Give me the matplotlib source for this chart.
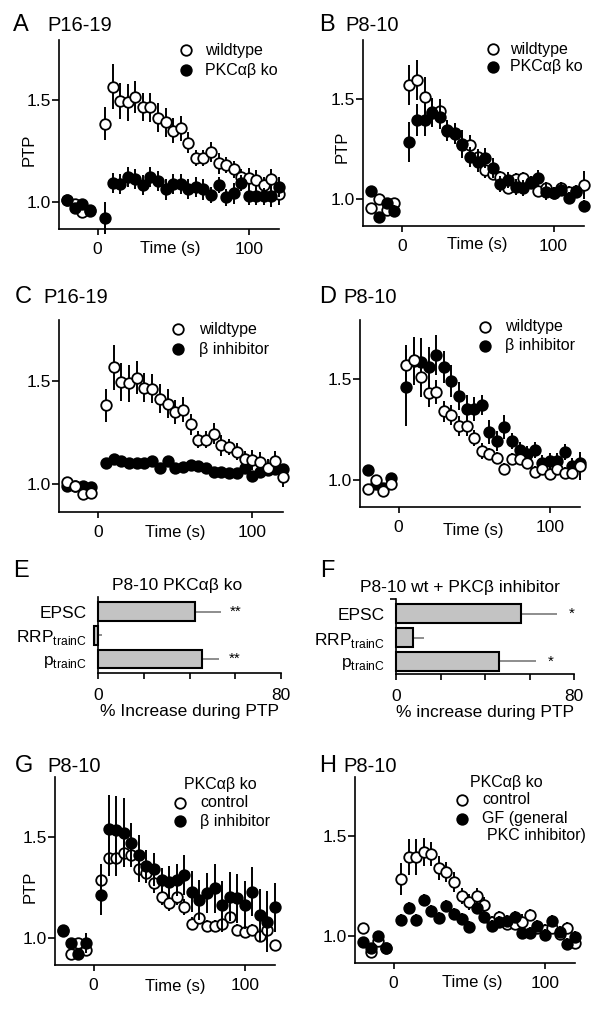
import numpy as np
import matplotlib.pyplot as plt

plt.rcParams['font.family'] = ['Liberation Sans', 'DejaVu Sans']
plt.rcParams['mathtext.fontset'] = 'custom'
plt.rcParams['mathtext.rm'] = 'Liberation Sans'
plt.rcParams['axes.linewidth'] = 1.2

# time points (s): 4 before the train, 24 after
time = [-20, -15, -10, -5,
        5, 10, 15, 20, 25, 30, 35, 40, 45, 50, 55, 60,
        65, 70, 75, 80, 85, 90, 95, 100, 105, 110, 115, 120]

# P16-19 (A, C)
p16_wt = [1.01, 0.99, 0.95, 0.955,
          1.383, 1.565, 1.495, 1.488, 1.515, 1.466, 1.463, 1.413, 1.39, 1.349, 1.36, 1.29,
          1.216, 1.216, 1.245, 1.188, 1.18, 1.158, 1.12, 1.117, 1.106, 1.08, 1.11, 1.035]
p16_wt_err = [0.02, 0.02, 0.02, 0.02,
              0.08, 0.11, 0.09, 0.09, 0.08, 0.07, 0.07, 0.07, 0.07, 0.06, 0.06, 0.05,
              0.04, 0.04, 0.05, 0.05, 0.04, 0.04, 0.04, 0.05, 0.05, 0.04, 0.05, 0.05]
p16_ko = [1.01, 0.97, 0.99, 0.96,
          0.918, 1.09, 1.087, 1.12, 1.11, 1.08, 1.12, 1.10, 1.06, 1.087, 1.085, 1.062,
          1.07, 1.06, 1.033, 1.08, 1.02, 1.04, 1.09, 1.025, 1.025, 1.025, 1.025, 1.07]
p16_ko_err = [0.02, 0.02, 0.02, 0.02,
              0.08, 0.05, 0.05, 0.05, 0.05, 0.05, 0.05, 0.05, 0.05, 0.05, 0.05, 0.05,
              0.05, 0.05, 0.04, 0.04, 0.04, 0.05, 0.04, 0.04, 0.04, 0.04, 0.05, 0.05]
p16_inh = [0.99, 0.99, 0.99, 0.985,
           1.104, 1.12, 1.112, 1.104, 1.10, 1.10, 1.112, 1.08, 1.112, 1.08, 1.085, 1.093,
           1.088, 1.077, 1.06, 1.06, 1.055, 1.052, 1.08, 1.04, 1.06, 1.068, 1.072, 1.072]
p16_inh_err = [0.015] * 28

# P8-10 (B, D)
p8_wt = [0.955, 1.0, 0.945, 0.98,
         1.571, 1.595, 1.51, 1.434, 1.439, 1.34, 1.324, 1.27, 1.27, 1.209, 1.143, 1.127,
         1.11, 1.053, 1.102, 1.105, 1.086, 1.04, 1.053, 1.028, 1.056, 1.033, 1.033, 1.069]
p8_wt_err = [0.02, 0.02, 0.02, 0.02,
             0.10, 0.10, 0.10, 0.07, 0.06, 0.05, 0.05, 0.05, 0.05, 0.04, 0.04, 0.03,
             0.03, 0.03, 0.03, 0.03, 0.03, 0.03, 0.03, 0.03, 0.03, 0.03, 0.03, 0.07]
p8_ko = [1.04, 0.91, 0.98, 0.94,
         1.284, 1.396, 1.396, 1.43, 1.41, 1.345, 1.33, 1.274, 1.212, 1.184, 1.207, 1.157,
         1.074, 1.095, 1.062, 1.054, 1.079, 1.104, 1.037, 1.03, 1.045, 1.003, 1.04, 0.967]
p8_ko_err = [0.02, 0.02, 0.02, 0.03,
             0.10, 0.08, 0.08, 0.07, 0.06, 0.05, 0.05, 0.07, 0.05, 0.05, 0.05, 0.05,
             0.04, 0.04, 0.04, 0.04, 0.03, 0.04, 0.04, 0.03, 0.03, 0.03, 0.03, 0.03]
p8_inh = [1.05, 0.98, 0.96, 1.007,
          1.46, 1.59, 1.587, 1.56, 1.62, 1.56, 1.49, 1.415, 1.354, 1.354, 1.374, 1.237,
          1.192, 1.263, 1.192, 1.148, 1.127, 1.148, 1.086, 1.094, 1.094, 1.138, 1.069, 1.082]
p8_inh_err = [0.02, 0.02, 0.02, 0.02,
              0.19, 0.12, 0.12, 0.10, 0.10, 0.08, 0.08, 0.07, 0.07, 0.06, 0.05, 0.06,
              0.05, 0.06, 0.04, 0.04, 0.04, 0.04, 0.04, 0.04, 0.04, 0.04, 0.04, 0.04]

# PKCab ko, P8-10 (G, H)
ko_ctrl = [1.04, 0.92, 0.975, 0.94,
           1.285, 1.393, 1.393, 1.42, 1.41, 1.338, 1.322, 1.272, 1.20, 1.17, 1.20, 1.153,
           1.07, 1.096, 1.058, 1.058, 1.068, 1.104, 1.038, 1.03, 1.038, 1.008, 1.038, 0.964]
ko_ctrl_err = [0.02, 0.02, 0.02, 0.02,
               0.08, 0.09, 0.09, 0.07, 0.06, 0.06, 0.05, 0.05, 0.04, 0.04, 0.04, 0.04,
               0.03, 0.03, 0.03, 0.03, 0.04, 0.03, 0.03, 0.03, 0.03, 0.03, 0.03, 0.02]
ko_binh = [1.035, 0.975, 0.918, 0.975,
           1.211, 1.536, 1.533, 1.52, 1.467, 1.409, 1.355, 1.338, 1.285, 1.277, 1.285, 1.31,
           1.228, 1.186, 1.22, 1.244, 1.162, 1.203, 1.195, 1.162, 1.228, 1.112, 1.079, 1.15]
ko_binh_err = [0.02, 0.02, 0.02, 0.05,
               0.10, 0.17, 0.17, 0.17, 0.10, 0.10, 0.08, 0.08, 0.06, 0.08, 0.08, 0.10,
               0.10, 0.10, 0.10, 0.12, 0.12, 0.12, 0.12, 0.12, 0.12, 0.13, 0.15, 0.12]
ko_gf = [0.972, 0.939, 1.0, 0.939,
         1.08, 1.14, 1.08, 1.18, 1.125, 1.09, 1.15, 1.11, 1.083, 1.043, 1.142, 1.096,
         1.05, 1.07, 1.076, 1.096, 1.017, 1.017, 1.05, 1.005, 1.076, 1.02, 0.96, 0.993]
ko_gf_err = [0.02, 0.02, 0.02, 0.02] + [0.03] * 24

# bar panels E, F
bar_labels = ['EPSC', r'$\mathrm{RRP}_{\mathrm{trainC}}$', r'$\mathrm{p}_{\mathrm{trainC}}$']
e_vals = [42.4, -1.8, 45.3]
e_err = [11.3, 3.4, 7.7]
e_sig = ['**', '', '**']
f_vals = [55.9, 7.5, 46.4]
f_err = [16.5, 5.1, 16.4]
f_sig = ['*', '', '*']

W, H = 601, 1011
fig = plt.figure(figsize=(6.01, 10.11), dpi=100)


def box(l, t, r, b):
    return [l / W, 1 - b / H, (r - l) / W, (b - t) / H]


def ftext(x, y, s, **kw):
    fig.text(x / W, 1 - y / H, s, **kw)


def ptp_axes(rect):
    ax = fig.add_axes(rect)
    ax.set_xlim(-25.5, 120)
    ax.set_ylim(0.865, 1.795)
    for s in ['top', 'right']:
        ax.spines[s].set_visible(False)
    ax.set_xticks([0, 100])
    ax.set_yticks([1.0, 1.5], ['1.0', '1.5'])
    ax.tick_params(axis='x', direction='out', length=4.3, width=1.2, pad=5, labelsize=12.5)
    ax.tick_params(axis='y', direction='out', length=5, width=1.2, pad=1, labelsize=12.5)
    return ax


def series(ax, y, err, filled, z):
    ax.errorbar(time, y, yerr=err, fmt='o', ms=7.6, mew=1.3, mec='black',
                mfc='black' if filled else 'white', ecolor='black', elinewidth=1.4,
                capsize=0, zorder=z, clip_on=False)


def legend(ax, x, y_open, y_fill, tx, lab_open, lab_fill):
    ax.plot([x], [y_open], 'o', ms=7.6, mew=1.3, mec='black', mfc='white',
            transform=ax.transAxes, clip_on=False)
    ax.plot([x], [y_fill], 'o', ms=7.6, mew=1.3, mec='black', mfc='black',
            transform=ax.transAxes, clip_on=False)
    ax.text(tx, y_open, lab_open, transform=ax.transAxes, va='center', fontsize=11.5)
    ax.text(tx, y_fill, lab_fill, transform=ax.transAxes, va='center', fontsize=11.5)


# A
axA = ptp_axes(box(59, 40, 279, 229))
series(axA, p16_wt, p16_wt_err, False, 3)
series(axA, p16_ko, p16_ko_err, True, 4)
legend(axA, 0.577, 0.947, 0.841, 0.665, 'wildtype', 'PKCαβ ko')

# B
axB = ptp_axes(box(363, 40, 584, 226))
series(axB, p8_wt, p8_wt_err, False, 3)
series(axB, p8_ko, p8_ko_err, True, 4)
legend(axB, 0.59, 0.95, 0.856, 0.665, 'wildtype', 'PKCαβ ko')

# C
axC = ptp_axes(box(59, 320, 283, 512))
series(axC, p16_inh, p16_inh_err, True, 3)
series(axC, p16_wt, p16_wt_err, False, 4)
legend(axC, 0.533, 0.952, 0.848, 0.625, 'wildtype', 'β inhibitor')

# D
axD = ptp_axes(box(360, 320, 580, 507))
series(axD, p8_inh, p8_inh_err, True, 3)
series(axD, p8_wt, p8_wt_err, False, 4)
legend(axD, 0.568, 0.964, 0.861, 0.66, 'wildtype', 'β inhibitor')

# G
axG = ptp_axes(box(55, 777, 275, 965))
series(axG, ko_ctrl, ko_ctrl_err, False, 3)
series(axG, ko_binh, ko_binh_err, True, 4)
axG.text(0.585, 0.961, 'PKCαβ ko', transform=axG.transAxes, va='center', fontsize=11.5)
legend(axG, 0.568, 0.862, 0.765, 0.66, 'control', 'β inhibitor')

# H
axH = ptp_axes(box(355, 777, 575, 963))
series(axH, ko_ctrl, ko_ctrl_err, False, 3)
series(axH, ko_gf, ko_gf_err, True, 4)
axH.text(0.525, 0.973, 'PKCαβ ko', transform=axH.transAxes, va='center', fontsize=11.5)
legend(axH, 0.485, 0.878, 0.776, 0.578, 'control', 'GF (general')
axH.text(0.60, 0.687, 'PKC inhibitor)', transform=axH.transAxes, va='center', fontsize=11.5)

# time labels and PTP labels
for x, y in [(170, 248), (477, 245), (175, 532), (473, 530), (175, 987), (472, 983)]:
    ftext(x, y, 'Time (s)', ha='center', va='center', fontsize=12)
for x, y in [(29, 150), (342, 147), (30, 887)]:
    ftext(x, y, 'PTP', ha='center', va='center', rotation=90, fontsize=12)


def bar_axes(rect, vals, err, sig, ylim, title, xlabel, title_x):
    ax = fig.add_axes(rect)
    pos = [2, 1, 0]
    ax.barh(pos, vals, height=0.78, color='#c3c3c3', edgecolor='black', linewidth=1.5,
            clip_on=False, zorder=2)
    for p, v, e in zip(pos, vals, err):
        ax.errorbar([v], [p], xerr=[[0], [e]], fmt='none',
                    ecolor='#7a7a7a', elinewidth=1.2, capsize=0, zorder=1, clip_on=False)
    for p, v, e, s in zip(pos, vals, err, sig):
        if s:
            ax.text(v + e + 6.5, p, s, ha='center', va='center', fontsize=11)
    ax.set_xlim(0, 80)
    ax.set_ylim(*ylim)
    for s in ['top', 'right']:
        ax.spines[s].set_visible(False)
    ax.set_yticks(pos, bar_labels)
    ax.set_xticks([0, 80])
    ax.set_xticks([20, 40, 60], minor=True)
    ax.tick_params(axis='y', length=0, pad=8, labelsize=12.5)
    ax.tick_params(axis='x', which='both', direction='out', length=4, width=1.2,
                   pad=7, labelsize=12.5)
    ax.set_xlabel(xlabel, fontsize=12.5, labelpad=1)
    ax.set_title(title, fontsize=12.5, x=title_x, pad=5)
    return ax


bar_axes(box(98.3, 597, 281, 672.7), e_vals, e_err, e_sig, (-0.57, 2.62),
         'P8-10 PKCαβ ko', '% Increase during PTP', 0.43)
axF = bar_axes(box(396, 599, 574.3, 673.5), f_vals, f_err, f_sig, (-0.51, 2.62),
               'P8-10 wt + PKCβ inhibitor', '% increase during PTP', 0.36)
axF.set_yticks([2.62], minor=True)
axF.tick_params(axis='y', which='minor', length=4, width=1.2)

# panel letters and age labels
for letter, lx, px, y, age in [('A', 13, 47, 31, 'P16-19'), ('B', 319, 345, 31, 'P8-10'),
                               ('C', 15, 43, 303, 'P16-19'), ('D', 319, 343, 303, 'P8-10'),
                               ('G', 15, 47, 772, 'P8-10'), ('H', 319, 343, 772, 'P8-10')]:
    ftext(lx, y, letter, fontsize=17, va='baseline')
    ftext(px, y, age, fontsize=14.5, va='baseline')
ftext(13, 577, 'E', fontsize=17, va='baseline')
ftext(320, 577, 'F', fontsize=17, va='baseline')

fig.savefig('out.png', dpi=100, facecolor='white')
